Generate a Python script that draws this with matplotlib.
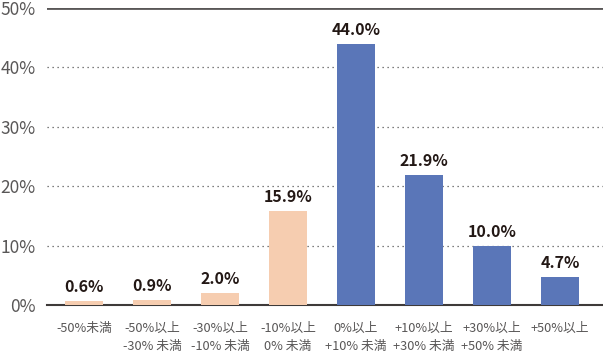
import matplotlib.pyplot as plt
import numpy as np

plt.rcParams['font.family'] = ['Noto Sans CJK JP', 'DejaVu Sans']

# カテゴリと値
categories = ['-50%未満', '-50%以上\n-30% 未満', '-30%以上\n-10% 未満', '-10%以上\n0% 未満',
              '0%以上\n+10% 未満', '+10%以上\n+30% 未満', '+30%以上\n+50% 未満', '+50%以上']
values = [0.6, 0.9, 2.0, 15.9, 44.0, 21.9, 10.0, 4.7]
colors = ['#f6cdb0'] * 4 + ['#5a76b8'] * 4

fig = plt.figure(figsize=(6.03, 3.64), dpi=100)
ax = fig.add_axes([47/603, 59/364, 556/603, 297/364])

x = np.arange(len(values))
ax.bar(x, values, width=0.56, color=colors, zorder=3)

for xi, v in zip(x, values):
    ax.text(xi, v + 1.0, f'{v:.1f}%', ha='center', va='bottom',
            fontsize=11.5, fontweight='bold', color='#231815')

ax.set_xlim(-0.544, 7.632)
ax.set_ylim(0, 50)
ax.set_yticks(range(0, 51, 10))
ax.set_yticklabels([f'{t}%' for t in range(0, 51, 10)], fontsize=12.5, color='#595757')
ax.set_xticks(x)
ax.set_xticklabels(categories, fontsize=9.2, color='#595757', linespacing=1.5)

for t in range(10, 50, 10):
    ax.axhline(t, color='#555555', linestyle=(0, (1, 3)), linewidth=0.9, zorder=1)
ax.axhline(50, color='#595757', linewidth=2, zorder=2)

for s in ['left', 'right', 'top']:
    ax.spines[s].set_visible(False)
ax.spines['bottom'].set_color('#3e3a39')
ax.spines['bottom'].set_linewidth(1.5)
ax.tick_params(axis='both', length=0)
ax.tick_params(axis='y', pad=8)
ax.tick_params(axis='x', pad=12)

plt.savefig('out.png', dpi=100)
